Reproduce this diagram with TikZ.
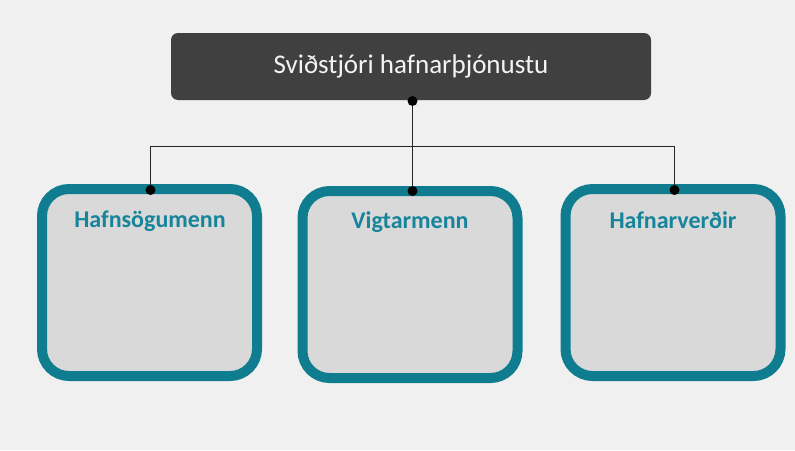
\documentclass[tikz,border=0pt]{standalone}
\usepackage{fontspec}
\setmainfont{Carlito}
\definecolor{bgcol}{HTML}{F0F0F0}
\definecolor{headfill}{HTML}{404040}
\definecolor{headtext}{HTML}{F4F4F4}
\definecolor{teal}{HTML}{0F7D8F}
\definecolor{tealtext}{HTML}{16849A}
\definecolor{cardfill}{HTML}{D9D9D9}
\begin{document}
\begin{tikzpicture}[x=1pt,y=-1pt,
  headbox/.style={fill=headfill, rounded corners=7pt, minimum width=480pt,
    minimum height=67pt, text=headtext, font=\fontsize{27}{30}\selectfont, inner sep=0pt},
  card/.style={draw=teal, line width=10pt, fill=cardfill, rounded corners=27pt,
    minimum width=215pt, minimum height=187pt, inner sep=0pt},
  cardtitle/.style={text=tealtext, font=\bfseries\fontsize{24}{28}\selectfont, inner sep=0pt},
  link/.style={draw=black!85, line width=1.1pt},
  joint/.style={circle, fill=black, inner sep=0pt, minimum size=10pt}]
  % page
  \fill[bgcol] (0,0) rectangle (795,450);
  \useasboundingbox (0,0) rectangle (795,450);
  % head of the service
  \node[headbox] (head) at (411,66.5) {Sviðstjóri hafnarþjónustu};
  % three teams
  \node[card] (c1) at (149.5,282.5) {};
  \node[card] (c2) at (410,284.5) {};
  \node[card] (c3) at (673,282.5) {};
  \node[cardtitle] (t1) at (150,221) {Hafnsögumenn};
  \node[cardtitle] (t2) at (410,222) {Vigtarmenn};
  \node[cardtitle] (t3) at (673,220) {Hafnarverðir};
  % connectors
  \coordinate (top) at (412.5,101);
  \coordinate (bar) at (412.5,146.5);
  \coordinate (e1) at (150.5,190);
  \coordinate (e2) at (412.5,191);
  \coordinate (e3) at (674.5,190);
  \draw[link] (top) -- (e2);
  \draw[link] (e1) |- (bar) -| (e3);
  \node[joint] at (top) {};
  \node[joint] at (e1) {};
  \node[joint] at (e2) {};
  \node[joint] at (e3) {};
\end{tikzpicture}
\end{document}
